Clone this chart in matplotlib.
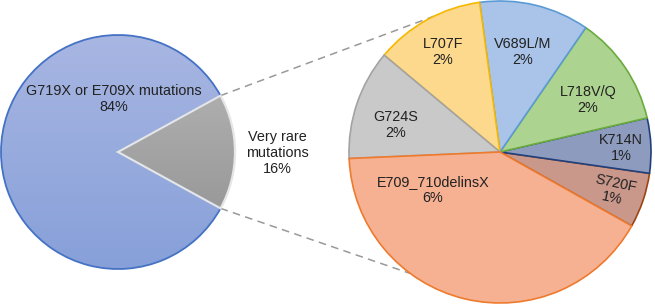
import numpy as np
import matplotlib.pyplot as plt
from matplotlib.colors import LinearSegmentedColormap

plt.rcParams['font.family'] = ['Liberation Sans', 'DejaVu Sans']

# left pie: share of all uncommon mutations
main_labels = ['Very rare\nmutations\n16%', 'G719X or E709X mutations\n84%']
main_values = [16, 84]

# right pie: breakdown of the very rare group (counterclockwise from S720F)
rare_names = ['S720F', 'K714N', 'L718V/Q', 'V689L/M', 'L707F', 'G724S', 'E709_710delinsX']
rare_counts = [1, 1, 2, 2, 2, 2, 7]
rare_pct = ['1%', '1%', '2%', '2%', '2%', '2%', '6%']

fig = plt.figure(figsize=(6.55, 3.05), dpi=100)
ax = fig.add_axes([0, 0, 1, 1])

txt = '#222222'
fs = 10.4
ls = 1.15

# ---- left pie ----
c1 = (118, 153)
r1 = 117
w1, _ = ax.pie(main_values, center=c1, radius=r1, startangle=-main_values[0] / 100 * 180,
               colors=['none', 'none'], normalize=True)
w1[1].set_edgecolor('#4472c4')
w1[1].set_linewidth(1.3)
w1[1].set_zorder(3)
w1[0].set_edgecolor('#e6e6e6')
w1[0].set_linewidth(1.6)
w1[0].set_zorder(4)

grads = [('#b9b9b9', '#8e8e8e'), ('#a8b6e2', '#87a0d9')]
for w, (top, bot) in zip(w1, grads):
    cm = LinearSegmentedColormap.from_list('g', [top, bot])
    im = ax.imshow(np.linspace(0, 1, 256)[:, None], cmap=cm, aspect='auto', origin='upper',
                   extent=(c1[0] - r1, c1[0] + r1, c1[1] - r1, c1[1] + r1), zorder=2)
    im.set_clip_path(w)

ax.text(114, 305 - 99, main_labels[1], ha='center', va='center', fontsize=fs,
        color=txt, linespacing=ls, zorder=6)
ax.text(277, 305 - 153, main_labels[0], ha='center', va='center', fontsize=fs,
        color=txt, linespacing=ls, zorder=6)

# ---- right pie ----
c2 = (500, 153)
r2 = 151
fills = ['#c9988b', '#8d9bbf', '#add390', '#a9c4e8', '#fdd98e', '#c9c9c9', '#f5b192']
edges = ['#9c4413', '#20407c', '#6aab3d', '#5b9bd5', '#f5b800', '#a3a3a3', '#ee7a2e']
w2, _ = ax.pie(rare_counts, center=c2, radius=r2, startangle=-29.3, colors=fills,
               wedgeprops=dict(linewidth=1.2))
for w, ec in zip(w2, edges):
    w.set_edgecolor(ec)
    w.set_zorder(3)

label_xy = [(614, 305 - 191), (621, 305 - 148), (588, 305 - 100), (523, 305 - 52),
            (443, 305 - 52), (396, 305 - 125), (433, 305 - 190)]
label_rot = [-12, 0, 0, 0, 0, 0, 0]
for name, pct, (x, y), rot in zip(rare_names, rare_pct, label_xy, label_rot):
    ax.text(x, y, name + '\n' + pct, ha='center', va='center', fontsize=fs, color=txt,
            rotation=rot, rotation_mode='anchor', linespacing=ls, zorder=6)

# ---- connector lines from the gray wedge to the right pie ----
half = np.deg2rad(main_values[0] / 100 * 180)
for sgn, ang in [(1, 116), (-1, 233.6)]:
    x0 = c1[0] + r1 * np.cos(half)
    y0 = c1[1] + sgn * r1 * np.sin(half)
    x1 = c2[0] + r2 * np.cos(np.deg2rad(ang))
    y1 = c2[1] + r2 * np.sin(np.deg2rad(ang))
    ax.plot([x0, x1], [y0, y1], color='#999999', lw=1.1, ls=(0, (5, 3.5)), zorder=1)

ax.set_xlim(0, 655)
ax.set_ylim(0, 305)
ax.set_aspect('equal')
ax.axis('off')

fig.savefig('out.png', dpi=100)
